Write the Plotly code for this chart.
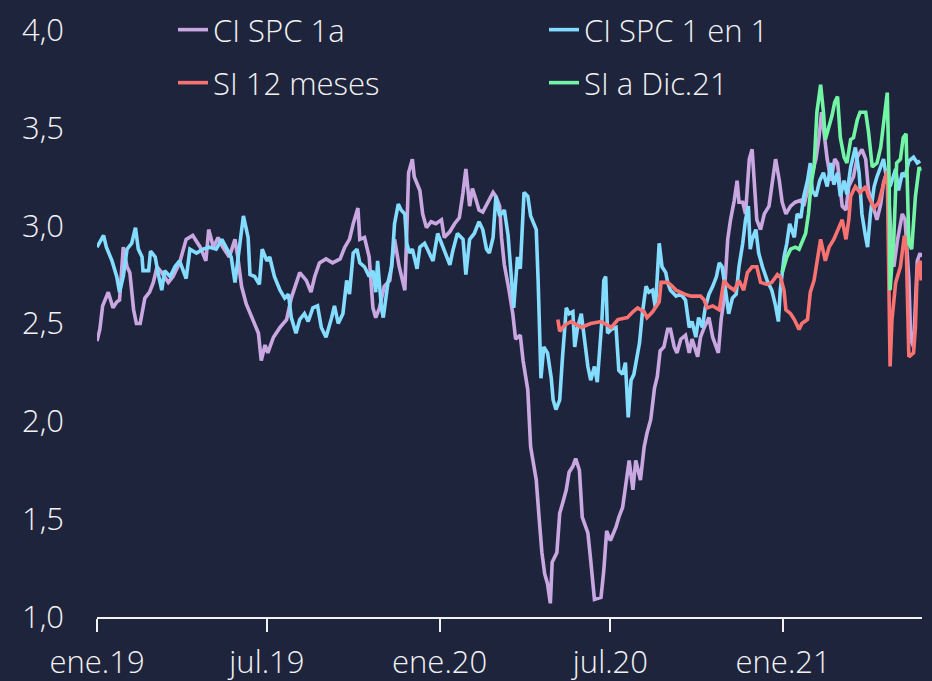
import pandas as pd
import plotly.graph_objects as go

base_date = "2019-01-01"

# ---- CI SPC 1a (purple) ----
spc1a_days = [0, 3, 6, 12, 17, 21, 24, 28, 32, 35, 39, 42, 46, 51, 56, 60, 64, 69, 76, 81,
              88, 95, 102, 110, 116, 119, 124, 129, 134, 141, 147, 150, 154, 159, 166, 172, 175, 179, 182, 188,
              195, 202, 207, 212, 216, 223, 228, 232, 237, 244, 251, 259, 264, 269, 273, 278, 280, 285, 290, 294,
              297, 301, 306, 312, 317, 322, 328, 330, 332, 336, 338, 344, 347, 351, 356, 361, 367, 370, 376, 381,
              386, 390, 393, 397, 400, 404, 407, 411, 416, 422, 425, 429, 431, 434, 439, 443, 446, 451, 454, 459,
              462, 468, 471, 474, 477, 480, 483, 485, 490, 493, 496, 500, 503, 507, 510, 514, 517, 523, 526, 530,
              537, 540, 543, 547, 553, 556, 560, 565, 567, 571, 574, 579, 583, 586, 590, 594, 597, 600, 604, 608,
              611, 615, 618, 622, 627, 631, 634, 640, 643, 647, 652, 656, 660, 662, 665, 668, 672, 675, 679, 682,
              684, 688, 691, 695, 698, 700, 703, 707, 711, 716, 719, 723, 727, 730, 734, 739, 744, 750, 753, 757,
              762, 766, 769, 772, 774, 778, 782, 786, 789, 794, 798, 801, 806, 810, 815, 819, 822, 826, 831, 835,
              838, 842, 845, 849, 853, 858, 861, 865, 867, 870, 874, 877, 878]
spc1a_vals = [2.41, 2.47, 2.59, 2.66, 2.58, 2.61, 2.62, 2.89, 2.79, 2.76, 2.57, 2.50, 2.50, 2.63, 2.66, 2.71, 2.79, 2.76, 2.71, 2.74,
              2.81, 2.93, 2.95, 2.89, 2.82, 2.98, 2.89, 2.94, 2.89, 2.84, 2.93, 2.84, 2.69, 2.60, 2.52, 2.45, 2.31, 2.39, 2.35, 2.43,
              2.48, 2.52, 2.63, 2.71, 2.76, 2.72, 2.66, 2.74, 2.81, 2.83, 2.81, 2.83, 2.89, 2.93, 3.01, 3.09, 2.93, 2.94, 2.84, 2.58,
              2.53, 2.58, 2.69, 2.72, 2.93, 2.79, 2.67, 2.96, 3.27, 3.34, 3.25, 3.18, 3.06, 2.99, 3.02, 3.01, 3.03, 2.94, 2.97, 3.01,
              3.04, 3.17, 3.29, 3.10, 3.19, 3.13, 3.08, 3.07, 3.12, 3.17, 3.15, 3.10, 2.94, 2.80, 2.67, 2.55, 2.42, 2.44, 2.31, 2.16,
              1.87, 1.70, 1.51, 1.33, 1.22, 1.17, 1.07, 1.28, 1.33, 1.53, 1.58, 1.65, 1.74, 1.77, 1.81, 1.75, 1.51, 1.43, 1.29, 1.09,
              1.10, 1.24, 1.44, 1.39, 1.46, 1.51, 1.56, 1.74, 1.80, 1.65, 1.80, 1.70, 1.87, 1.94, 2.01, 2.17, 2.23, 2.36, 2.38, 2.47,
              2.47, 2.38, 2.35, 2.42, 2.44, 2.35, 2.42, 2.33, 2.43, 2.48, 2.53, 2.43, 2.38, 2.35, 2.52, 2.62, 2.93, 3.03, 3.13, 3.23,
              3.12, 3.12, 3.06, 3.34, 3.39, 3.23, 3.03, 2.98, 3.06, 3.10, 3.20, 3.34, 3.23, 3.12, 3.06, 3.10, 3.12, 3.13, 3.10, 3.18,
              3.27, 3.34, 3.44, 3.58, 3.49, 3.34, 3.23, 3.34, 3.32, 3.10, 3.08, 3.20, 3.25, 3.35, 3.39, 3.34, 3.18, 3.11, 3.03, 3.11,
              3.22, 3.28, 3.03, 2.79, 2.93, 3.06, 3.03, 2.72, 2.42, 2.38, 2.82, 2.86, 2.84]

# ---- CI SPC 1 en 1 (light blue) ----
spc1en1_days = [0, 7, 10, 16, 21, 24, 28, 32, 37, 41, 44, 48, 49, 55, 57, 62, 65, 69, 72, 78,
                83, 88, 95, 99, 106, 113, 120, 127, 133, 138, 143, 147, 150, 156, 161, 163, 168, 173, 176, 181,
                184, 189, 195, 200, 204, 207, 212, 216, 221, 225, 230, 235, 239, 244, 250, 253, 257, 262, 266, 269,
                273, 277, 280, 285, 290, 294, 297, 299, 303, 305, 310, 314, 317, 321, 324, 328, 330, 333, 336, 341,
                344, 349, 354, 358, 363, 367, 372, 376, 379, 384, 390, 393, 397, 402, 407, 411, 415, 418, 422, 425,
                429, 432, 434, 438, 441, 444, 448, 451, 455, 459, 462, 468, 470, 473, 476, 480, 484, 486, 489, 493,
                496, 500, 503, 507, 509, 512, 516, 519, 523, 526, 530, 533, 535, 538, 540, 542, 544, 548, 553, 556,
                560, 563, 566, 569, 572, 578, 581, 585, 588, 592, 595, 599, 602, 606, 608, 611, 617, 622, 627, 631,
                634, 638, 641, 645, 648, 652, 656, 660, 663, 666, 670, 673, 677, 681, 684, 688, 691, 694, 696, 698,
                702, 705, 709, 714, 719, 723, 726, 728, 732, 735, 738, 743, 746, 750, 753, 757, 760, 762, 766, 770,
                774, 778, 782, 785, 789, 792, 796, 799, 803, 808, 812, 815, 819, 821, 824, 828, 831, 835, 838, 842,
                845, 851, 854, 858, 861, 865, 870, 874, 877]
spc1en1_vals = [2.89, 2.95, 2.89, 2.82, 2.74, 2.66, 2.74, 2.88, 2.91, 2.99, 2.88, 2.84, 2.77, 2.77, 2.87, 2.84, 2.76, 2.67, 2.77, 2.74,
                2.79, 2.82, 2.73, 2.88, 2.86, 2.88, 2.89, 2.88, 2.93, 2.88, 2.84, 2.71, 2.82, 3.05, 2.94, 2.75, 2.74, 2.70, 2.88, 2.82,
                2.84, 2.74, 2.67, 2.63, 2.65, 2.53, 2.45, 2.52, 2.55, 2.51, 2.58, 2.59, 2.48, 2.43, 2.53, 2.59, 2.50, 2.55, 2.72, 2.65,
                2.86, 2.88, 2.81, 2.79, 2.74, 2.77, 2.66, 2.82, 2.58, 2.53, 2.71, 2.79, 3.01, 3.11, 3.08, 3.06, 2.91, 2.86, 2.88, 2.78,
                2.89, 2.91, 2.86, 2.82, 2.96, 2.91, 2.84, 2.80, 2.87, 2.96, 2.93, 2.75, 2.93, 2.96, 3.02, 2.98, 2.88, 2.86, 2.94, 3.15,
                3.05, 3.07, 3.08, 2.95, 2.75, 2.58, 2.84, 2.78, 3.17, 3.15, 3.05, 2.98, 2.72, 2.22, 2.38, 2.35, 2.22, 2.11, 2.06, 2.11,
                2.33, 2.58, 2.55, 2.56, 2.38, 2.48, 2.55, 2.42, 2.28, 2.21, 2.28, 2.20, 2.33, 2.52, 2.72, 2.74, 2.45, 2.47, 2.48, 2.26,
                2.24, 2.30, 2.02, 2.21, 2.24, 2.40, 2.55, 2.69, 2.66, 2.67, 2.58, 2.91, 2.79, 2.76, 2.71, 2.67, 2.64, 2.65, 2.62, 2.48,
                2.51, 2.43, 2.53, 2.48, 2.58, 2.65, 2.69, 2.74, 2.81, 2.79, 2.66, 2.55, 2.63, 2.65, 2.79, 2.91, 3.03, 3.10, 2.88, 2.93,
                2.98, 2.86, 2.79, 2.72, 2.67, 2.59, 2.51, 2.67, 2.84, 2.91, 3.01, 2.94, 3.06, 3.04, 3.15, 3.23, 3.32, 3.18, 3.15, 3.23,
                3.27, 3.20, 3.32, 3.21, 3.27, 3.15, 3.23, 3.16, 3.30, 3.40, 3.27, 3.06, 2.94, 2.89, 3.06, 3.20, 3.25, 3.30, 3.34, 3.22,
                3.20, 3.29, 3.18, 3.27, 3.25, 3.33, 3.35, 3.32, 3.33]

# ---- SI 12 meses (red) ----
si12_days = [491, 493, 498, 505, 516, 526, 537, 548, 555, 565, 571, 576, 583, 586, 592, 595, 599, 601, 608, 613,
             617, 626, 633, 643, 647, 650, 656, 663, 668, 673, 679, 684, 689, 693, 698, 703, 707, 714, 719, 725,
             728, 732, 734, 739, 743, 748, 751, 757, 760, 764, 767, 771, 776, 780, 785, 790, 794, 798, 801, 803,
             808, 813, 819, 822, 828, 833, 836, 840, 842, 845, 847, 851, 856, 860, 862, 865, 870, 872, 874, 877, 878]
si12_vals = [2.52, 2.46, 2.49, 2.51, 2.48, 2.50, 2.51, 2.48, 2.52, 2.53, 2.56, 2.58, 2.56, 2.53, 2.56, 2.58, 2.61, 2.71, 2.71, 2.69,
             2.67, 2.65, 2.64, 2.64, 2.62, 2.58, 2.59, 2.57, 2.72, 2.69, 2.67, 2.72, 2.67, 2.76, 2.79, 2.79, 2.71, 2.70, 2.71, 2.75,
             2.74, 2.67, 2.57, 2.55, 2.52, 2.47, 2.50, 2.52, 2.66, 2.72, 2.82, 2.93, 2.82, 2.89, 2.93, 2.99, 3.03, 2.93, 3.03, 3.15,
             3.20, 3.17, 3.20, 3.15, 3.09, 3.12, 3.18, 3.25, 3.28, 2.28, 2.52, 2.71, 2.79, 2.94, 2.94, 2.33, 2.35, 2.48, 2.79, 2.82, 2.72]

# ---- SI a Dic.21 (green) ----
sidic_days = [730, 735, 739, 744, 748, 751, 755, 758, 761, 764, 767, 771, 774, 776, 780, 783, 786, 789, 792, 796,
              799, 803, 806, 810, 813, 819, 822, 826, 831, 835, 838, 842, 844, 845, 849, 852, 856, 859, 862, 865,
              868, 872, 876, 877]
sidic_vals = [2.76, 2.84, 2.88, 2.89, 2.88, 2.91, 2.96, 3.06, 3.22, 3.30, 3.58, 3.72, 3.58, 3.44, 3.50, 3.56, 3.63, 3.66, 3.45, 3.35,
              3.32, 3.44, 3.45, 3.54, 3.58, 3.58, 3.48, 3.30, 3.32, 3.40, 3.52, 3.68, 3.23, 2.67, 2.94, 3.32, 3.34, 3.45, 3.47, 2.91,
              2.88, 3.15, 3.30, 3.28]

series_names = ["CI SPC 1a", "CI SPC 1 en 1", "SI 12 meses", "SI a Dic.21"]
series_colors = ["#c9a8e2", "#84dcff", "#f87272", "#72f5a4"]

tick_dates = ["2019-01-01", "2019-07-01", "2020-01-01", "2020-07-01", "2021-01-01"]
tick_labels = ["ene.19", "jul.19", "ene.20", "jul.20", "ene.21"]
y_ticks = [1.0, 1.5, 2.0, 2.5, 3.0, 3.5, 4.0]


def to_dates(days):
    return pd.Timestamp(base_date) + pd.to_timedelta(days, unit="D")


all_days = [spc1a_days, spc1en1_days, si12_days, sidic_days]
all_vals = [spc1a_vals, spc1en1_vals, si12_vals, sidic_vals]
legends = ["legend", "legend", "legend2", "legend2"]

BG = "#1f243d"
TXT = "#f2f2f2"
FONT = "Open Sans"

fig = go.Figure()
for name, col, d, v, lg in zip(series_names, series_colors, all_days, all_vals, legends):
    fig.add_trace(go.Scatter(
        x=to_dates(d), y=v, mode="lines", name=name,
        line=dict(color=col, width=3.6), legend=lg,
    ))

leg_common = dict(
    orientation="h", xref="container", yref="container",
    xanchor="left", yanchor="middle",
    bgcolor="rgba(0,0,0,0)", borderwidth=0,
    font=dict(family=FONT, size=31, color=TXT, weight=300),
    entrywidth=326, entrywidthmode="pixels",
    itemwidth=30,
)

fig.update_layout(
    width=932, height=681,
    paper_bgcolor=BG, plot_bgcolor=BG,
    margin=dict(l=97, r=10, t=30, b=64, autoexpand=False),
    separators=",.",
    font=dict(family=FONT, size=31, color=TXT, weight=300),
    showlegend=True,
    legend=dict(x=173 / 932, y=1 - 30 / 681, **leg_common),
    legend2=dict(x=173 / 932, y=1 - 83 / 681, **leg_common),
    xaxis=dict(
        type="date",
        range=["2019-01-01", "2021-05-29"],
        tickmode="array", tickvals=tick_dates, ticktext=tick_labels,
        showgrid=False, zeroline=False,
        showline=True, linecolor=TXT, linewidth=2,
        ticks="outside", ticklen=13, tickwidth=2, tickcolor=TXT,
        ticklabelstandoff=4,
        tickfont=dict(family=FONT, size=31, color=TXT, weight=300),
    ),
    yaxis=dict(
        range=[1.0, 4.0],
        tickmode="array", tickvals=y_ticks, tickformat=".1f",
        showgrid=False, zeroline=False, showline=False, ticks="",
        ticklabelstandoff=32,
        tickfont=dict(family=FONT, size=31, color=TXT, weight=300),
    ),
)

fig.write_html(
    "out.html",
    config={"displayModeBar": False},
    post_script="document.body.style.margin='0';document.body.style.background='" + BG + "';",
)
